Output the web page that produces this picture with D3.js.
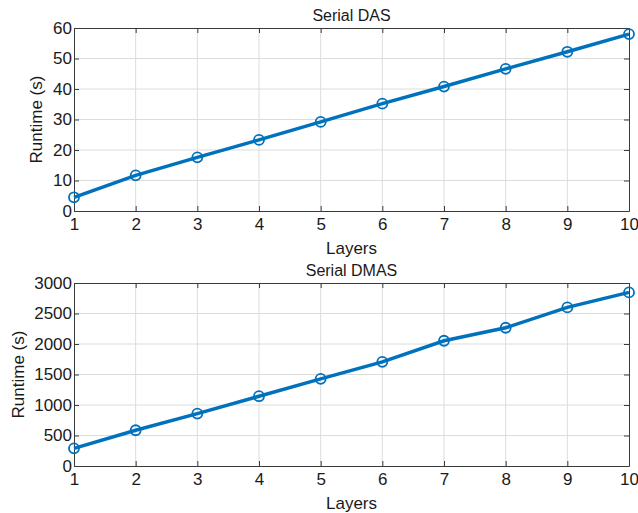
<!DOCTYPE html>
<html>
<head>
<meta charset="utf-8">
<script src="https://cdn.jsdelivr.net/npm/d3@7"></script>
<style>
  body { margin: 0; background: #fff; }
  svg { font-family: "Liberation Sans", Arial, sans-serif; }
</style>
</head>
<body>
<svg id="chart" width="638" height="513"></svg>
<script>
// data
const layers = [1, 2, 3, 4, 5, 6, 7, 8, 9, 10];
const dasRuntime = [4.5, 11.7, 17.6, 23.3, 29.2, 35.2, 40.8, 46.6, 52.2, 58.0];
const dmasRuntime = [290, 586, 859, 1144, 1429, 1708, 2053, 2266, 2600, 2846];
const dasTicks = [0, 10, 20, 30, 40, 50, 60];
const dmasTicks = [0, 500, 1000, 1500, 2000, 2500, 3000];

const svg = d3.select("#chart");
const blue = "#0072BD";

function panel(cfg) {
  const { left, right, top, bottom, values, yMax, yTicks, title, ylabelX } = cfg;

  const x = d3.scaleLinear().domain([1, 10]).range([left, right]);
  const y = d3.scaleLinear().domain([0, yMax]).range([bottom, top]);

  const g = svg.append("g");

  // grid
  g.append("g").selectAll("line").data(layers.slice(1, -1)).join("line")
    .attr("x1", d => x(d)).attr("x2", d => x(d))
    .attr("y1", top).attr("y2", bottom)
    .attr("stroke", "#dcdcdc").attr("stroke-width", 1);
  g.append("g").selectAll("line").data(yTicks.slice(1, -1)).join("line")
    .attr("x1", left).attr("x2", right)
    .attr("y1", d => y(d)).attr("y2", d => y(d))
    .attr("stroke", "#dcdcdc").attr("stroke-width", 1);

  // axes (MATLAB-style inward ticks, box on)
  const tickLen = 5;
  const axStyle = a => a.call(s => s.select(".domain").attr("stroke", "#3a3a3a"))
    .call(s => s.selectAll(".tick line").attr("stroke", "#3a3a3a"));

  g.append("g").attr("transform", `translate(0,${bottom})`)
    .call(d3.axisBottom(x).tickValues(layers).tickSizeInner(-tickLen).tickSizeOuter(0).tickPadding(7))
    .call(axStyle)
    .call(s => s.selectAll("text").style("font-size", "17px").attr("fill", "#1a1a1a"));
  g.append("g").attr("transform", `translate(0,${top})`)
    .call(d3.axisTop(x).tickValues(layers).tickSizeInner(-tickLen).tickSizeOuter(0).tickFormat(""))
    .call(axStyle);
  g.append("g").attr("transform", `translate(${left},0)`)
    .call(d3.axisLeft(y).tickValues(yTicks).tickFormat(d3.format("d"))
      .tickSizeInner(-tickLen).tickSizeOuter(0).tickPadding(2))
    .call(axStyle)
    .call(s => s.selectAll("text").style("font-size", "17px").attr("fill", "#1a1a1a"));
  g.append("g").attr("transform", `translate(${right},0)`)
    .call(d3.axisRight(y).tickValues(yTicks).tickSizeInner(-tickLen).tickSizeOuter(0).tickFormat(""))
    .call(axStyle);

  // line
  const line = d3.line().x((d, i) => x(layers[i])).y(d => y(d));
  g.append("path").datum(values)
    .attr("d", line)
    .attr("fill", "none")
    .attr("stroke", blue)
    .attr("stroke-width", 3.5);

  g.append("g").selectAll("circle").data(values).join("circle")
    .attr("cx", (d, i) => x(layers[i]))
    .attr("cy", d => y(d))
    .attr("r", 5)
    .attr("fill", "none")
    .attr("stroke", blue)
    .attr("stroke-width", 1.8);

  // labels
  g.append("text")
    .attr("x", (left + right) / 2).attr("y", top - 7)
    .attr("text-anchor", "middle")
    .style("font-size", "16px").attr("fill", "#1a1a1a")
    .text(title);
  g.append("text")
    .attr("x", (left + right) / 2).attr("y", bottom + 43)
    .attr("text-anchor", "middle")
    .style("font-size", "17px").attr("fill", "#1a1a1a")
    .text("Layers");
  g.append("text")
    .attr("transform", `translate(${ylabelX},${(top + bottom) / 2}) rotate(-90)`)
    .attr("text-anchor", "middle")
    .attr("dy", "0.35em")
    .style("font-size", "17px").attr("fill", "#1a1a1a")
    .text("Runtime (s)");
}

panel({ left: 74, right: 629, top: 28, bottom: 211, values: dasRuntime, yMax: 60,
        yTicks: dasTicks, title: "Serial DAS", ylabelX: 36 });
panel({ left: 74, right: 629, top: 283, bottom: 466, values: dmasRuntime, yMax: 3000,
        yTicks: dmasTicks, title: "Serial DMAS", ylabelX: 18 });
</script>
</body>
</html>
